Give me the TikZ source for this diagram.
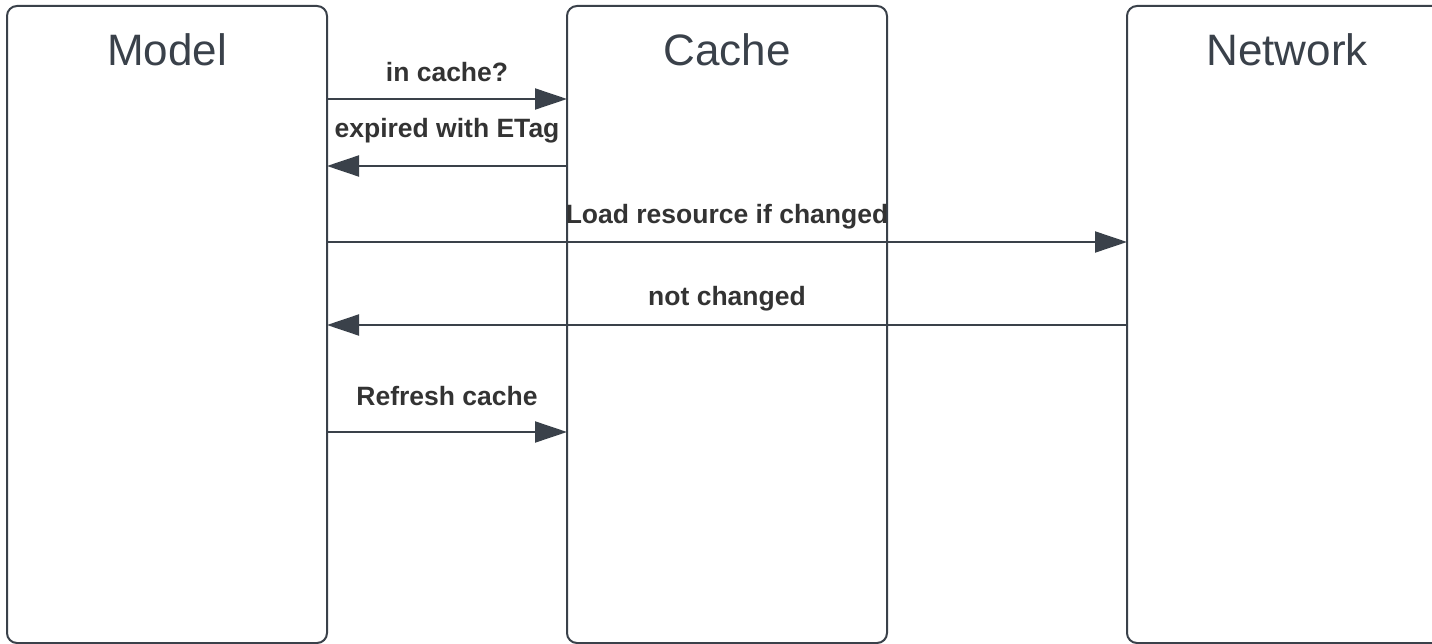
\documentclass[tikz,border=0pt]{standalone}
\usepackage{fontspec}
\setmainfont{Liberation Sans}
\usetikzlibrary{arrows.meta}
\definecolor{lc}{HTML}{3A414A}
\definecolor{tc}{HTML}{333333}
\begin{document}
\begin{tikzpicture}[x=1pt,y=-1pt,
  lane/.style={draw=lc,line width=2pt,rounded corners=10pt,anchor=north west,minimum width=320pt,minimum height=637pt,inner sep=0pt,outer sep=0pt},
  title/.style={font=\fontsize{44}{50}\selectfont,text=lc},
  lbl/.style={font=\fontsize{26.5}{30}\selectfont\bfseries,text=tc},
  arr/.style={draw=lc,line width=2pt,-{Triangle[length=32pt,width=21pt]}}]
\useasboundingbox (0,0) rectangle (1432,644);
\node[lane] (model) at (7,6) {};
\node[lane] (cache) at (567,6) {};
\node[lane] (network) at (1127,6) {};
\node[title] (tmodel) at (167,50) {Model};
\node[title] (tcache) at (727,50) {Cache};
\node[title] (tnetwork) at (1287,50) {Network};
\coordinate (m1) at (model.east |- 0,99);
\coordinate (c1) at (cache.west |- 0,99);
\coordinate (m2) at (model.east |- 0,166);
\coordinate (c2) at (cache.west |- 0,166);
\coordinate (m3) at (model.east |- 0,242);
\coordinate (n3) at (network.west |- 0,242);
\coordinate (m4) at (model.east |- 0,325);
\coordinate (n4) at (network.west |- 0,325);
\coordinate (m5) at (model.east |- 0,432);
\coordinate (c5) at (cache.west |- 0,432);
\draw[arr] (m1) -- (c1);
\draw[arr] (c2) -- (m2);
\draw[arr] (m3) -- (n3);
\draw[arr] (n4) -- (m4);
\draw[arr] (m5) -- (c5);
\node[lbl] (l1) at (447,72) {in cache?};
\node[lbl] (l2) at (447,131) {expired with ETag};
\node[lbl] (l3) at (727,217) {Load resource if changed};
\node[lbl] (l4) at (727,299) {not changed};
\node[lbl] (l5) at (447,396) {Refresh cache};
\end{tikzpicture}
\end{document}
